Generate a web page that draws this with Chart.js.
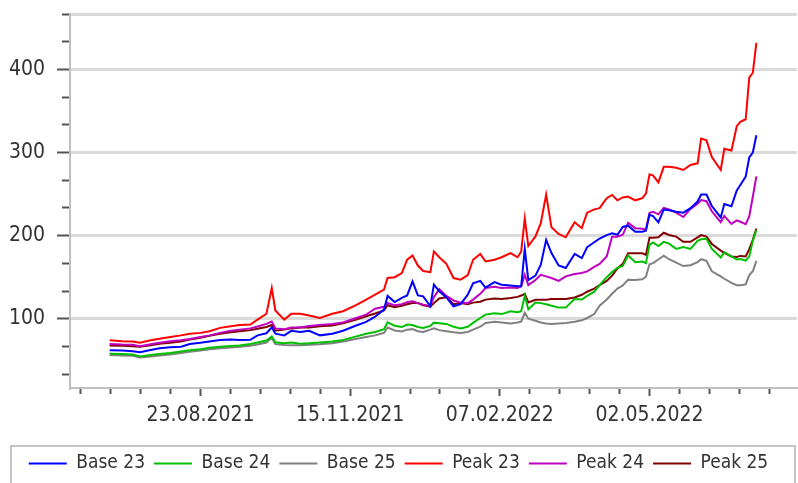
<!DOCTYPE html>
<html>
<head>
<meta charset="utf-8">
<script src="https://cdn.jsdelivr.net/npm/chart.js@4.4.1/dist/chart.umd.min.js"></script>
<style>
html,body{margin:0;padding:0;background:#ffffff;}
#wrap{width:798px;height:483px;position:relative;}
</style>
</head>
<body>
<div id="wrap"><canvas id="c"></canvas></div>
<script>
// Day offsets relative to 23.08.2021 (day 0)
const days = [-51,-44,-38,-34,-28,-23,-17,-11,-6,0,5,11,17,22,28,32,37,40,42,47,51,56,61,67,74,80,87,93,98,103,105,109,113,116,119,122,125,129,131,134,138,142,146,150,153,157,160,165,169,174,178,180,182,184,188,191,194,197,201,205,210,214,217,221,224,228,231,234,237,240,244,248,250,252,254,257,260,263,267,271,275,279,281,284,287,292,294,298,301,303,306,308,310,312];

const base23 = [62,61.7,61,59.6,62.5,64.4,65.6,66.3,69.6,71,72.5,74.4,75,74.4,74.6,80,82.5,89.6,82,80,85.4,84,85.4,80,82,85.6,91.6,96.3,102.5,111,127.5,120,125,128,145,128,127,115,141,133,125.6,115,117.5,129,142.5,145.6,137.5,144,141,140,139,139,184,146.6,151.9,165,195,179,164,161,178,173,186,192,196.5,200.6,202.9,201,210.4,212,204.6,204.6,205.8,225,223.6,216,231.4,230.5,228.8,227.6,233,241,249.5,249.5,235.6,221.9,238,235.3,254.4,261,271,294,300,320.7];

const base24 = [57.9,57.5,57,54.6,56.3,57.5,58.8,60.6,62.1,63.4,65,66.3,67.3,67.9,69.6,71.3,73.8,78.8,71.6,70.6,71.3,70,70.4,71.3,72.5,74.4,78.5,81.9,84.1,87.5,95.6,91.6,90,93.1,92.5,90,88.8,91.3,95.3,94.6,93.8,90.4,88.4,90.4,95,100.9,105,106.5,105.6,109.1,107.8,109.1,127.5,111.3,119.6,118.8,117.5,115.6,113.4,113.4,123.8,123.1,127.5,132.5,140.4,150,156.3,161.3,163.4,176.3,168.1,168.8,166.9,188.8,191.9,187.5,192.5,190.4,184.1,186.3,184.1,193.8,195.6,196.3,184.1,173.8,180,175,171.3,171.9,170,175,193.8,206.6];

const base25 = [56.3,55.9,55.4,53.4,54.6,55.9,57.1,58.8,60.4,61.9,63.4,64.6,65.4,66.3,67.5,69.1,71.3,77.1,69.4,68.4,68.1,68.1,68.8,69.4,70.6,72.5,75.6,78.1,80,83.1,89.4,85.9,84.6,86.9,87.5,85,84.1,86.9,88.4,86.3,85,83.8,82.9,84.1,86.9,90.4,95,96.3,95.6,94.4,95.6,96.6,107.1,100,97.5,95.4,94.4,93.8,94.4,95,96.3,98.1,100.9,105.6,115.6,123.1,130,136.3,140,146.9,146.6,147.5,150.6,165.6,166.9,171.3,175.9,171.6,167.5,163.4,164.4,168.1,171.6,169.6,157.1,150.9,148.1,143.1,140.4,140.4,141.3,152.5,157.1,169.6];

const peak23 = [74,73,72.5,71,74,76,78,80,82,83,85,89,91,92.5,93,99,106,137,110,99,106,106,104,101,106,109,116,123,129,135,149,150,155,171,176,164,157.5,156,181,174,166,149,147,152.5,171,178,169,171,174,179,174,181,220.7,187.5,199,215,249.5,210,202,198,216,209,227.6,231.6,233,245,249,242.5,246,247,242.5,245,250.6,273.6,272.5,264,282.8,282.8,281.6,279,285,287,316.7,314.6,294.6,279,304.5,302.4,331.7,337,340,390,396,431.8];

const peak24 = [69.6,69,68.8,67,69.4,71,73,74,75.6,78,80,83,85.6,86.9,88.4,90.6,93.8,96.6,88.4,87.5,89.4,89.6,91.3,92.5,93.8,95.6,100.6,105,112,114.4,118.8,116.3,117.5,120,121,118.8,117,115.4,126,135.6,127.5,122,119.4,118.8,123,130,137,138.4,137,137.5,137,139,152.9,140.4,146.6,152.9,151,149,145.6,151,153.8,155,157,162.5,166,175,198.8,198.8,201,215.5,209,208.4,207.5,227.6,228.8,225.6,233.4,231.4,227.6,222.4,232.2,238.5,242.9,241.4,229.3,216.1,223.8,214.1,218.4,216.7,213.8,223,246.8,271.3];

const peak25 = [67.9,67.5,67,66.3,68,70,71,72.5,75,77,79.4,81.9,83.8,85,86.3,88,90,92.5,85.6,86.9,88.4,89.6,89.6,90.9,91.9,94.4,98.8,103,106.3,110,116.3,113.8,115.6,117.5,118.8,118.8,116.3,114.6,118.8,124.4,125.9,117.5,118.8,117.5,119.4,120.4,123,124.4,123.8,125,126.3,127.9,130,119.6,122.9,122.9,123,123.8,123.8,123.8,125.6,128.8,132.5,136.3,140.4,145.6,151.9,160.6,166,178.8,178.8,178.8,176.9,197.5,197.5,198,203.5,200.8,198.8,192.5,192.5,198,200.6,198.8,190,182,179.4,175,174.4,175.6,175,183.8,195,208.4];

const seriesNames = ['Base 23','Base 24','Base 25','Peak 23','Peak 24','Peak 25'];
const seriesColors = ['#0000ff','#00c000','#808080','#ff0000','#c000c0','#800000'];
const seriesValues = [base23, base24, base25, peak23, peak24, peak25];

const xTickDays = [0,84,168,252];
const xTickLabels = ['23.08.2021','15.11.2021','07.02.2022','02.05.2022'];
const xMinorPerMajor = 5;
const xMin = -73.25, xMax = 334.8;

const yTickValues = [100,200,300,400];
const yMinorPerMajor = 3;
const yMin = 16.67, yMax = 466.67;

const FONT = "'DejaVu Sans Condensed', 'Liberation Sans', Arial, sans-serif";
const EPS = 0.01;

function xIsMajor(v){ return xTickDays.some(d => Math.abs(d - v) < EPS); }
function yIsMajor(v){ return yTickValues.some(d => Math.abs(d - v) < EPS); }

const legendBorder = {
  id: 'legendBorder',
  afterDraw(chart){
    const ctx = chart.ctx;
    const l = chart.legend;
    ctx.save();
    ctx.strokeStyle = '#c4c4c4';
    ctx.lineWidth = 2;
    ctx.strokeRect(11, l.top + 1, 784, 80);
    ctx.restore();
  }
};

new Chart(document.getElementById('c'), {
  type: 'line',
  data: {
    datasets: seriesNames.map((name, k) => ({
      label: name,
      data: days.map((d, i) => ({x: d, y: seriesValues[k][i]})),
      borderColor: seriesColors[k],
      backgroundColor: seriesColors[k],
      borderWidth: 2,
      pointRadius: 0,
      tension: 0,
      fill: false
    }))
  },
  options: {
    responsive: true,
    maintainAspectRatio: false,
    animation: false,
    devicePixelRatio: 1,
    layout: { padding: { top: 14, right: 1, left: 0, bottom: 0 } },
    plugins: {
      tooltip: { enabled: false },
      legend: {
        position: 'bottom',
        labels: {
          boxWidth: 38,
          boxHeight: 2,
          padding: 9,
          color: '#333333',
          font: { family: FONT, size: 19 },
          generateLabels(chart){
            const items = Chart.defaults.plugins.legend.labels.generateLabels(chart);
            items.forEach(it => { it.fillStyle = it.strokeStyle; it.lineWidth = 0; });
            return items;
          }
        }
      }
    },
    scales: {
      x: {
        type: 'linear',
        min: xMin,
        max: xMax,
        afterBuildTicks(scale){
          const step = (xTickDays[1] - xTickDays[0]) / xMinorPerMajor;
          const t = [];
          for (let k = -10; k <= 40; k++) {
            const v = xTickDays[0] + k * step;
            if (v >= xMin - EPS && v <= xMax + EPS) t.push({value: v});
          }
          scale.ticks = t;
        },
        afterFit(scale){ scale.height = 57; scale.paddingLeft = 0; scale.paddingRight = 0; },
        ticks: {
          autoSkip: false,
          maxRotation: 0,
          padding: 7,
          color: '#333333',
          font: { family: FONT, size: 21 },
          callback(v){
            const i = xTickDays.findIndex(d => Math.abs(d - v) < EPS);
            return i >= 0 ? xTickLabels[i] : '';
          }
        },
        grid: {
          drawOnChartArea: false,
          drawTicks: true,
          tickLength: 8,
          tickWidth: 2,
          tickColor: '#555555',
          tickBorderDash: (c) => (c.tick && xIsMajor(c.tick.value)) ? [] : [5, 100]
        },
        border: { display: true, color: '#c0c0c0', width: 2 }
      },
      y: {
        type: 'linear',
        min: yMin,
        max: yMax,
        afterBuildTicks(scale){
          const step = (yTickValues[1] - yTickValues[0]) / yMinorPerMajor;
          const t = [];
          for (let k = 0; k <= 40; k++) {
            const v = k * step;
            if (v >= yMin - EPS && v <= yMax + EPS) t.push({value: v});
          }
          scale.ticks = t;
        },
        afterFit(scale){ scale.width = 70; scale.paddingTop = 0; scale.paddingBottom = 0; },
        ticks: {
          autoSkip: false,
          padding: 12,
          color: '#333333',
          font: { family: FONT, size: 21 },
          callback(v){ return yIsMajor(v) ? String(Math.round(v)) : ''; }
        },
        grid: {
          drawTicks: true,
          tickLength: 13,
          tickWidth: 2,
          tickColor: '#555555',
          lineWidth: 3,
          color: (c) => {
            if (!c.tick) return 'rgba(0,0,0,0)';
            const v = c.tick.value;
            return (yIsMajor(v) || Math.abs(v - yMax) < EPS) ? '#dadada' : 'rgba(0,0,0,0)';
          },
          tickBorderDash: (c) => (c.tick && yIsMajor(c.tick.value)) ? [] : [0, 5, 8, 100]
        },
        border: { display: true, color: '#c0c0c0', width: 2 }
      }
    }
  },
  plugins: [legendBorder]
});
</script>
</body>
</html>
